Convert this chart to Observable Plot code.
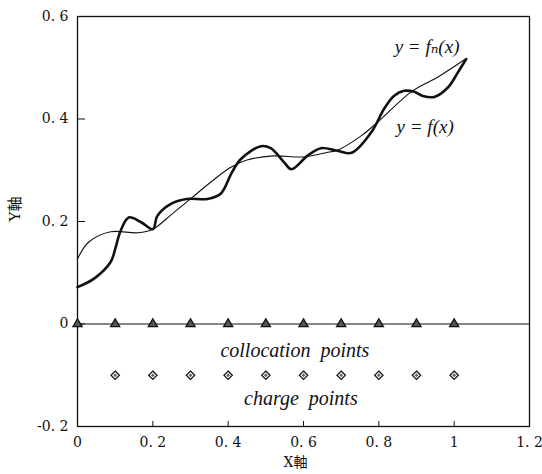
<!DOCTYPE html>
<html><head><meta charset="utf-8">
<script src="https://cdn.jsdelivr.net/npm/d3@7"></script>
<script src="https://cdn.jsdelivr.net/npm/@observablehq/plot@0.6"></script>
<style>body{margin:0;background:#fff} #chart svg{display:block;background:#fff}</style>
</head><body><div id="chart"></div>
<script>
// y = f(x)  (exact function, thin line)
const fX = [0, 0.03, 0.088, 0.16, 0.2, 0.25, 0.3, 0.354, 0.407, 0.45, 0.52, 0.6, 0.665, 0.69, 0.753, 0.8, 0.886, 0.957, 1.03];
const fY = [0.127, 0.16, 0.18, 0.178, 0.185, 0.214, 0.244, 0.277, 0.306, 0.32, 0.328, 0.326, 0.335, 0.339, 0.367, 0.396, 0.453, 0.482, 0.517];
// y = fn(x)  (approximation, thick line)
const fnX = [0, 0.043, 0.088, 0.1, 0.114, 0.136, 0.168, 0.2, 0.212, 0.247, 0.29, 0.345, 0.38, 0.41, 0.434, 0.487, 0.513, 0.548, 0.568, 0.61, 0.646, 0.69, 0.728, 0.78, 0.814, 0.84, 0.867, 0.894, 0.917, 0.947, 0.984, 1.01, 1.032];
const fnY = [0.072, 0.088, 0.121, 0.146, 0.181, 0.208, 0.199, 0.185, 0.211, 0.234, 0.244, 0.244, 0.254, 0.296, 0.322, 0.347, 0.343, 0.316, 0.302, 0.328, 0.343, 0.338, 0.334, 0.374, 0.42, 0.445, 0.455, 0.453, 0.445, 0.443, 0.462, 0.491, 0.517];
// collocation points and charge points
const collocationX = [0, 0.1, 0.2, 0.3, 0.4, 0.5, 0.6, 0.7, 0.8, 0.9, 1.0];
const collocationY = [0, 0, 0, 0, 0, 0, 0, 0, 0, 0, 0];
const chargeX = [0.1, 0.2, 0.3, 0.4, 0.5, 0.6, 0.7, 0.8, 0.9, 1.0];
const chargeY = [-0.1, -0.1, -0.1, -0.1, -0.1, -0.1, -0.1, -0.1, -0.1, -0.1];
// axes
const xTickValues = [0, 0.2, 0.4, 0.6, 0.8, 1.0, 1.2];
const xTickLabels = ["0", "0. 2", "0. 4", "0. 6", "0. 8", "1", "1. 2"];
const yTickValues = [-0.2, 0, 0.2, 0.4, 0.6];
const yTickLabels = ["-0. 2", "0", "0. 2", "0. 4", "0. 6"];
const xTitle = "X軸";
const yTitle = "Y軸";
// annotations
const notes = [
  {x: 0.577, y: -0.052, text: "collocation  points"},
  {x: 0.593, y: -0.146, text: "charge  points"}
];
const curveNotes = [
  {x: 0.928, y: 0.540, text: "y = fₙ(x)"},
  {x: 0.923, y: 0.384, text: "y = f(x)"}
];

const fData = fX.map((x, i) => ({x, y: fY[i]}));
const fnData = fnX.map((x, i) => ({x, y: fnY[i]}));
const colData = collocationX.map((x, i) => ({x, y: collocationY[i]}));
const chgData = chargeX.map((x, i) => ({x, y: chargeY[i]}));

const serif = "'Liberation Serif', 'DejaVu Serif', serif";
const tickFont = "'DejaVu Serif', 'Liberation Serif', serif";
const cjk = "'DejaVu Serif', 'Noto Sans CJK JP', sans-serif";

const chart = Plot.plot({
  width: 542,
  height: 474,
  marginLeft: 77,
  marginRight: 13,
  marginTop: 16,
  marginBottom: 48,
  x: {domain: [0, 1.2], label: null},
  y: {domain: [-0.2, 0.6], label: null},
  style: {fontFamily: serif, color: "#111", background: "#fff"},
  marks: [
    Plot.frame({stroke: "#111", strokeWidth: 1.3}),
    Plot.ruleY([0], {stroke: "#111", strokeWidth: 1}),
    Plot.axisX({ticks: xTickValues.slice(1, 6), tickSize: -5, tickFormat: () => "", label: null, stroke: "#111"}),
    Plot.axisY({ticks: yTickValues.slice(1, 4), tickSize: -8, tickFormat: () => "", label: null, stroke: "#111"}),
    Plot.axisX({ticks: xTickValues, tickSize: 0, tickPadding: 11, label: null, fontSize: 14, fontFamily: tickFont, fill: "#111",
      tickFormat: d => xTickLabels[xTickValues.indexOf(d)]}),
    Plot.axisY({ticks: yTickValues, tickSize: 0, tickPadding: 9, label: null, fontSize: 14, fontFamily: tickFont, fill: "#111",
      tickFormat: d => yTickLabels[yTickValues.indexOf(d)]}),
    Plot.text([xTitle], {frameAnchor: "bottom", dx: -8, dy: 40, text: d => d, fontSize: 14, fontFamily: cjk, fill: "#111"}),
    Plot.text([yTitle], {frameAnchor: "left", dx: -62, rotate: -90, text: d => d, fontSize: 15, fontFamily: cjk, fill: "#111"}),
    Plot.line(fData, {x: "x", y: "y", curve: "catmull-rom", stroke: "#111", strokeWidth: 1.1}),
    Plot.line(fnData, {x: "x", y: "y", curve: "catmull-rom", stroke: "#111", strokeWidth: 2.6}),
    Plot.dot(colData, {x: "x", y: "y", symbol: "triangle", r: 3.4, fill: "#555", stroke: "#111", strokeWidth: 1.3}),
    Plot.dot(chgData, {x: "x", y: "y", symbol: "diamond2", r: 3.8, fill: "#fff", stroke: "#111", strokeWidth: 1.2}),
    Plot.dot(chgData, {x: "x", y: "y", symbol: "diamond2", r: 1.7, fill: "#666", stroke: "none"}),
    Plot.text(notes, {x: "x", y: "y", text: "text", fontSize: 20, fontStyle: "italic", fontFamily: serif, fill: "#111"}),
    Plot.text(curveNotes, {x: "x", y: "y", text: "text", fontSize: 19, fontStyle: "italic", fontFamily: serif, fill: "#111"})
  ]
});
document.getElementById("chart").appendChild(chart);
</script>
</body></html>
